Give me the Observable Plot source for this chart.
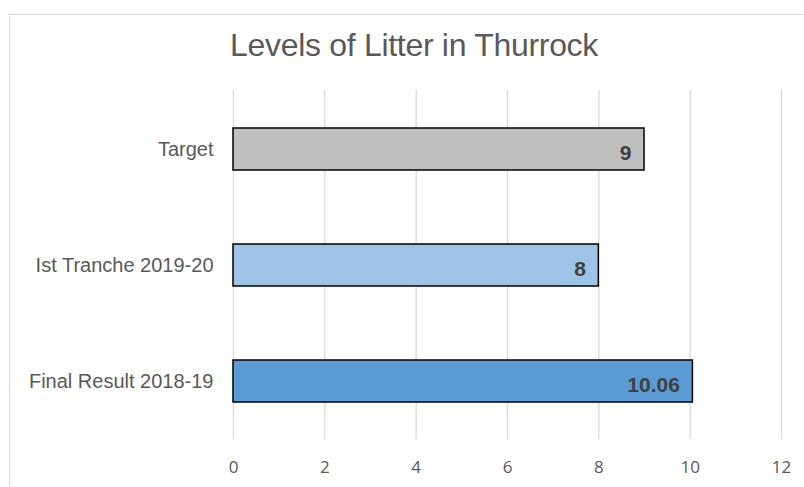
<!DOCTYPE html>
<html>
<head>
<meta charset="utf-8">
<script src="https://cdn.jsdelivr.net/npm/d3@7"></script>
<script src="https://cdn.jsdelivr.net/npm/@observablehq/plot@0.6"></script>
<style>
  html, body { margin: 0; padding: 0; background: #fff; }
  #wrap { position: relative; width: 804px; height: 487px; overflow: hidden; }
  #frame { position: absolute; left: 9px; top: 14px; width: 820px; height: 520px; border: 1px solid #d9d9d9; box-sizing: border-box; }
  #title { position: absolute; left: 0; width: 828px; top: 29px; line-height: 32px; text-align: center; white-space: nowrap;
           font-family: "Liberation Sans", Arial, sans-serif; font-size: 32px; color: #595959; letter-spacing: -0.3px; }
  #chart { position: absolute; left: 0; top: 0; }
</style>
</head>
<body>
<div id="wrap">
  <div id="frame"></div>
  <div id="chart"></div>
  <div id="title"></div>
</div>
<script>
const titleText = "Levels of Litter in Thurrock";
const categories = ["Target", "Ist Tranche 2019-20", "Final Result 2018-19"];
const values = [9, 8, 10.06];
const labels = ["9", "8", "10.06"];
const colors = ["#BFBFBF", "#9DC3E6", "#5B9BD5"];
const xTicks = [0, 2, 4, 6, 8, 10, 12];

document.getElementById("title").textContent = titleText;

const data = categories.map((c, i) => ({cat: c, value: values[i], label: labels[i], color: colors[i]}));

const chart = Plot.plot({
  width: 804,
  height: 487,
  marginLeft: 233,
  marginRight: 23,
  marginTop: 90,
  marginBottom: 48,
  style: {background: "transparent", fontFamily: "Liberation Sans, Arial, sans-serif"},
  x: {domain: [0, 12], ticks: xTicks, label: null, axis: null},
  y: {domain: categories, label: null, paddingInner: 0.64, paddingOuter: 0.32},
  marks: [
    Plot.ruleX(xTicks, {stroke: "#d9d9d9", strokeWidth: 1.3}),
    Plot.barX(data, {y: "cat", x: "value", fill: "color", stroke: "#000", strokeWidth: 1.5}),
    Plot.text(data, {y: "cat", x: "value", text: "label", textAnchor: "end", dx: -13, dy: 4,
      fill: "#404040", fontWeight: "bold", fontSize: 21, fontFamily: "Liberation Sans, Arial, sans-serif"}),
    Plot.text(xTicks, {x: d => d, text: d => String(d), frameAnchor: "bottom", lineAnchor: "top", dy: 21,
      fontSize: 17, fill: "#595959", fontFamily: "Open Sans, sans-serif"}),
    Plot.axisY({tickSize: 0, tickPadding: 20, fontSize: 20, fill: "#595959", label: null})
  ]
});
document.getElementById("chart").appendChild(chart);
</script>
</body>
</html>
